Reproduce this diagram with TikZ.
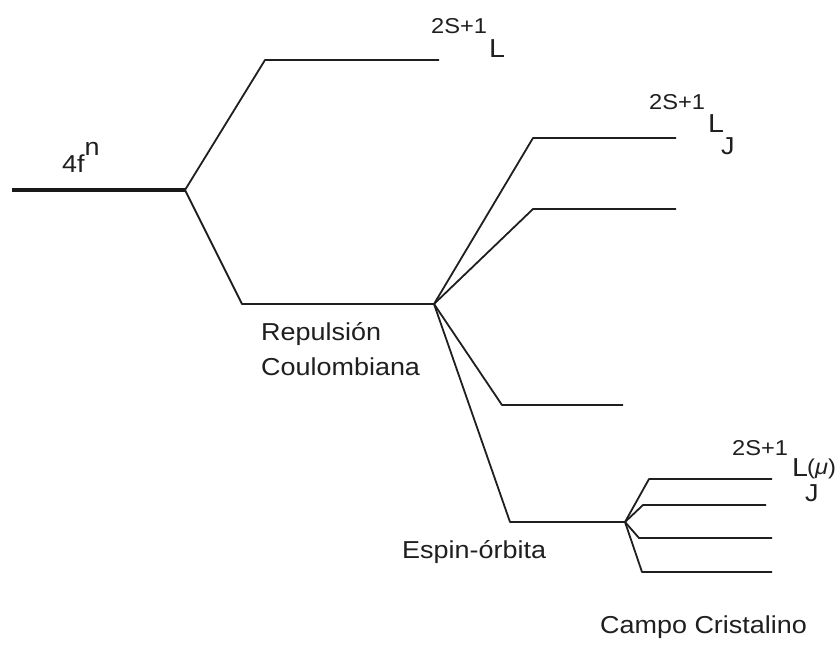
\documentclass[tikz,border=0pt]{standalone}
\usepackage{fontspec}
\setmainfont{Liberation Sans}[FakeStretch=1.1]
\begin{document}
\begin{tikzpicture}[x=1pt,y=-1pt,
  level/.style={line width=1.8pt, draw=black!88, line join=round},
  ground/.style={line width=3.2pt, draw=black!90},
  txt/.style={inner sep=0pt, anchor=base west, text=black!88,
              font=\fontsize{24.5}{29}\selectfont},
  supsc/.style={txt, font=\fontsize{21.5}{25}\selectfont},
  bigL/.style={txt, font=\fontsize{26}{30}\selectfont}]
\useasboundingbox (0,0) rectangle (840,646);

% ground configuration and Coulomb splitting
\coordinate (g0) at (12,190);
\coordinate (g1) at (185,190);
\coordinate (u1) at (265,60);
\coordinate (u2) at (439,60);
\coordinate (r1) at (242,304);
\coordinate (r2) at (434,304);

% spin-orbit levels
\coordinate (j1a) at (533,138);  \coordinate (j1b) at (676,138);
\coordinate (j2a) at (533,209);  \coordinate (j2b) at (676,209);
\coordinate (j3a) at (502,405);  \coordinate (j3b) at (623,405);
\coordinate (j4a) at (510,522);  \coordinate (j4b) at (625,522);

% crystal-field sublevels
\coordinate (k1a) at (649,479);  \coordinate (k1b) at (772,479);
\coordinate (k2a) at (643,505);  \coordinate (k2b) at (766,505);
\coordinate (k3a) at (639,538);  \coordinate (k3b) at (772,538);
\coordinate (k4a) at (642,572);  \coordinate (k4b) at (772,572);

\draw[ground] (g0) -- (g1);
\draw[level] (g1) -- (u1) -- (u2);
\draw[level] (g1) -- (r1) -- (r2);

\draw[level] (r2) -- (j1a) -- (j1b);
\draw[level] (r2) -- (j2a) -- (j2b);
\draw[level] (r2) -- (j3a) -- (j3b);
\draw[level] (r2) -- (j4a) -- (j4b);

\draw[level] (j4b) -- (k1a) -- (k1b);
\draw[level] (j4b) -- (k2a) -- (k2b);
\draw[level] (j4b) -- (k3a) -- (k3b);
\draw[level] (j4b) -- (k4a) -- (k4b);

% labels
\node[txt] (conf) at (62,172) {4f\raisebox{17pt}{n}};

\node[supsc] (mA) at (431,33) {2S+1};
\node[bigL]  (lA) at (489,57) {L};

\node[supsc] (mB) at (649,109) {2S+1};
\node[bigL]  (lB) at (708,132) {L};
\node[txt]   (jB) at (721,154) {J};

\node[supsc] (mC) at (732,455) {2S+1};
\node[bigL]  (lC) at (792,476) {L};
\node[supsc] (muC) at (807,474) {(\textit{μ})};
\node[txt]   (jC) at (805,501) {J};

\node[txt] (coul1) at (261,340) {Repulsión};
\node[txt] (coul2) at (261,375) {Coulombiana};
\node[txt] (so)    at (402,558) {Espin-órbita};
\node[txt] (cf)    at (600,633) {Campo Cristalino};
\end{tikzpicture}
\end{document}
